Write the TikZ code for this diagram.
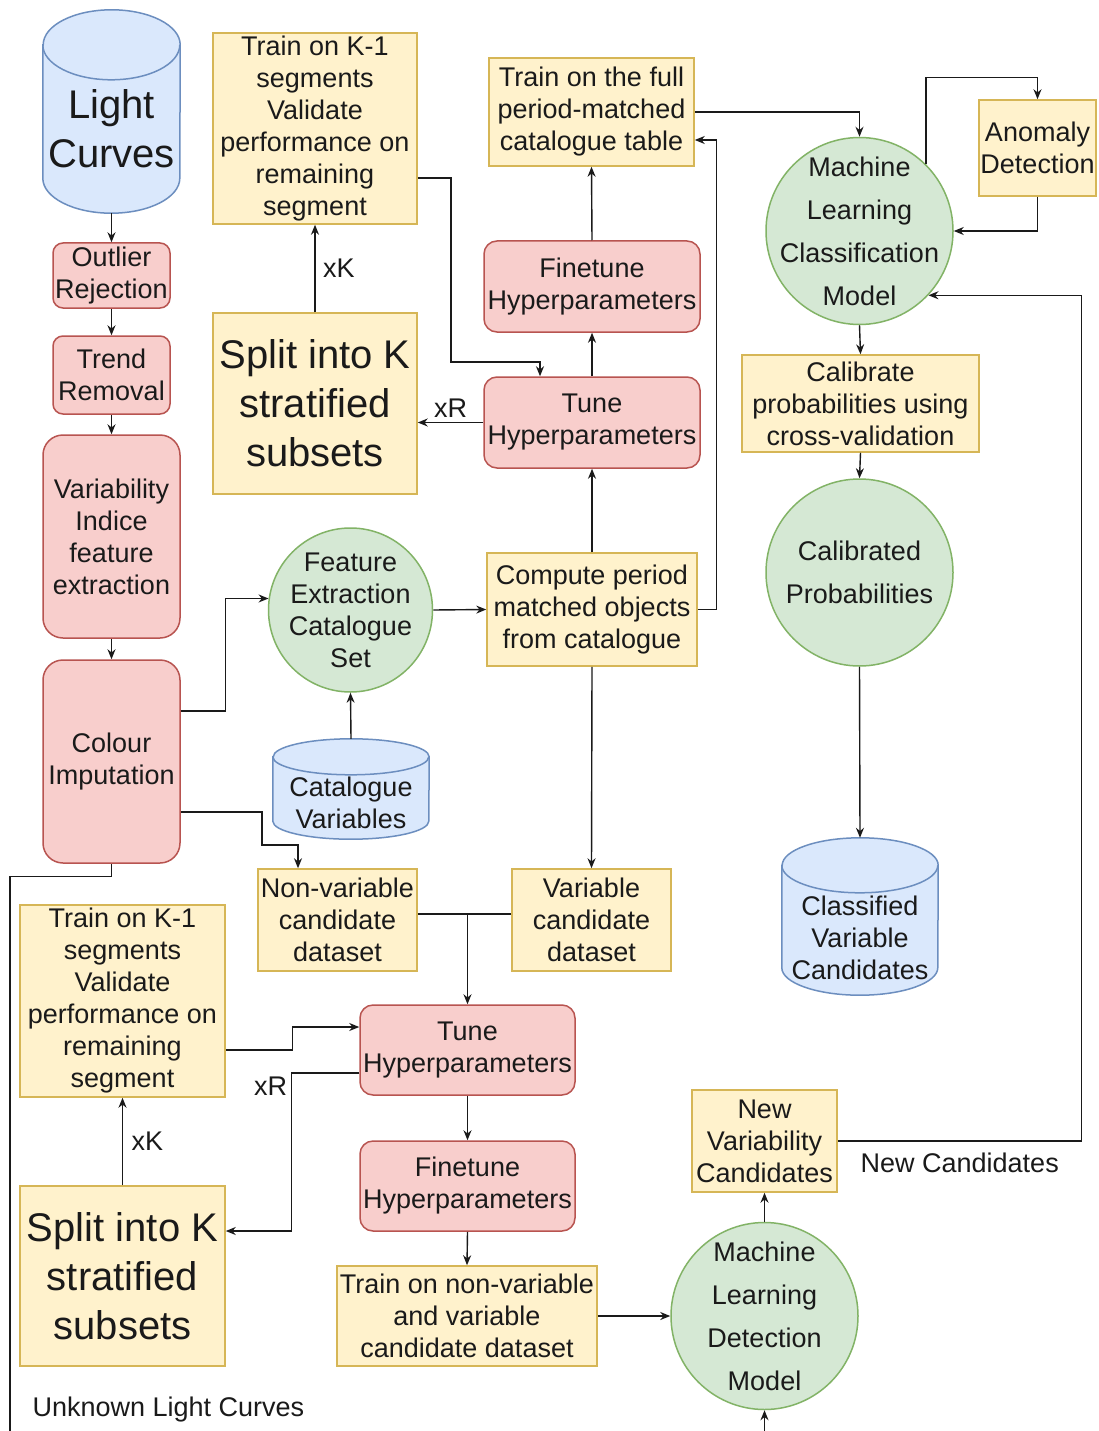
\documentclass[tikz,border=0pt]{standalone}
\usepackage{fontspec}
\setsansfont{Liberation Sans}
\usepackage{xcolor}
\definecolor{stepfill}{HTML}{FFF2CC}
\definecolor{stepdraw}{HTML}{D6B656}
\definecolor{tunefill}{HTML}{F8CECC}
\definecolor{tunedraw}{HTML}{B85450}
\definecolor{modelfill}{HTML}{D5E8D4}
\definecolor{modeldraw}{HTML}{82B366}
\definecolor{storefill}{HTML}{DAE8FC}
\definecolor{storedraw}{HTML}{6C8EBF}
\definecolor{inkblack}{HTML}{1A1A1A}
\usetikzlibrary{positioning, arrows.meta, shapes.geometric, calc, backgrounds}

\newcommand{\boxtext}{\fontsize{27}{32}\selectfont}
\newcommand{\bigtext}{\fontsize{40}{49}\selectfont}
\newcommand{\circtext}{\fontsize{27}{43}\selectfont}

\tikzset{
  every node/.style={font=\sffamily\boxtext, text=inkblack},
  stepbox/.style={
    rectangle, draw=stepdraw, fill=stepfill, line width=1.5pt,
    align=center, inner sep=1pt
  },
  tunebox/.style={
    rectangle, rounded corners=13pt, draw=tunedraw, fill=tunefill,
    line width=1.5pt, align=center, inner sep=1pt
  },
  modelnode/.style={
    circle, draw=modeldraw, fill=modelfill, line width=1.5pt,
    align=center, inner sep=-20pt, minimum size=187pt,
    font=\sffamily\circtext
  },
  % body of a data store; the drum itself is drawn behind it by \drum
  storebody/.style={rectangle, align=center, inner sep=1pt},
  storeline/.style={draw=storedraw, fill=storefill, line width=1.5pt},
  flow/.style={-{Stealth[length=10pt, width=8pt]}, draw=inkblack, line width=1.4pt},
  link/.style={draw=inkblack, line width=1.4pt},
  notelabel/.style={font=\sffamily\boxtext}
}

% drum round a storebody node: #1 node, #2 x radius, #3 y radius,
% #4 gap from the node's top edge up to the centre of the lid
\newcommand{\drum}[4]{%
  \path[storeline] ([yshift=#4]#1.north west) -- ([yshift=#3]#1.south west)
    arc[start angle=180, end angle=360, x radius=#2, y radius=#3]
    -- ([yshift=#4]#1.north east)
    arc[start angle=0, end angle=180, x radius=#2, y radius=#3] -- cycle;
  \draw[storeline, fill=none] ([yshift=#4]#1.north west)
    arc[start angle=180, end angle=360, x radius=#2, y radius=#3];
}

\begin{document}
\begin{tikzpicture}[x=1pt, y=-1pt]

\path[use as bounding box] (0,0) rectangle (1099,1431);
\clip (0,0) rectangle (1099,1431);

% ── Light-curve preprocessing column ─────────────────────────────────────────
\node[storebody, minimum width=137pt, minimum height=168pt, font=\sffamily\bigtext]
  (lc) at (111.5,129) {Light\\Curves};
\node[tunebox, minimum width=117pt, minimum height=65pt, rounded corners=10pt]
  (outlier) at (111.5,275.5) {Outlier\\Rejection};
\node[tunebox, minimum width=117pt, minimum height=78pt, rounded corners=10pt]
  (trend) at (111.5,375) {Trend\\Removal};
\node[tunebox, minimum width=137pt, minimum height=203pt, rounded corners=20pt]
  (varind) at (111.5,536.5) {Variability\\Indice\\feature\\extraction};
\node[tunebox, minimum width=137pt, minimum height=203pt, rounded corners=20pt]
  (colour) at (111.5,761.5) {Colour\\Imputation};

\draw[flow] (lc.south) -- (outlier.north);
\draw[flow] (outlier.south) -- (trend.north);
\draw[flow] (trend.south) -- (varind.north);
\draw[flow] (varind.south) -- (colour.north);

% ── Classifier branch: K-fold tuning on catalogue objects ────────────────────
\node[stepbox, minimum width=204pt, minimum height=191pt] (kfoldA) at (315,128.5)
  {Train on K-1\\segments\\Validate\\performance on\\remaining\\segment};
\node[stepbox, minimum width=204pt, minimum height=181pt, font=\sffamily\bigtext]
  (splitA) at (315,403.5) {Split into K\\stratified\\subsets};
\node[stepbox, minimum width=205pt, minimum height=108pt] (fullcat) at (591.5,112)
  {Train on the full\\period-matched\\catalogue table};
\node[tunebox, minimum width=216pt, minimum height=91pt] (fineA) at (592,286.5)
  {Finetune\\Hyperparameters};
\node[tunebox, minimum width=216pt, minimum height=91pt] (tuneA) at (592,422.5)
  {Tune\\Hyperparameters};
\node[stepbox, minimum width=210pt, minimum height=113pt] (compute) at (592,609.5)
  {Compute period\\matched objects\\from catalogue};

\draw[flow] (splitA.north) -- (kfoldA.south) node[midway, right=4pt] {xK};
\draw[flow] (tuneA.west) -- (tuneA.west -| splitA.east) node[midway, above=1pt] {xR};
\draw[flow] ([yshift=-49.5pt]kfoldA.east) -| (451,362) -| ([xshift=-52pt]tuneA.north);
\draw[flow] (compute.north) -- (tuneA.south);
\draw[flow] (tuneA.north) -- (fineA.south);
\draw[flow] (fineA.north) -- (fullcat.south);
\draw[flow] (compute.east) -- ++(19,0) |- ([yshift=-28pt]fullcat.east);

% ── Classification model and calibration ─────────────────────────────────────
\node[modelnode] (mlc) at (859.5,231) {Machine\\Learning\\Classification\\Model};
\node[stepbox, minimum width=117pt, minimum height=96pt] (anomaly) at (1037.5,148)
  {Anomaly\\Detection};
\node[stepbox, minimum width=237pt, minimum height=97pt] (calib) at (860.5,403.5)
  {Calibrate\\probabilities using\\cross-validation};
\node[modelnode] (calprob) at (859.5,572.5) {Calibrated\\Probabilities};
\node[storebody, minimum width=156pt, minimum height=114pt]
  (classified) at (860,938) {Classified\\Variable\\Candidates};

\draw[flow] (fullcat.east) -| (mlc.north);
\draw[flow] (mlc.45) |- ([yshift=22pt]anomaly.north) -- (anomaly.north);
\draw[flow] (anomaly.south) |- (mlc.east);
\draw[flow] (mlc.south) -- (calib.north);
\draw[flow] (calib.south) -- (calprob.north);
\draw[flow] (calprob.south) -- ([yshift=43pt]classified.north);

% ── Catalogue features ───────────────────────────────────────────────────────
\node[modelnode, minimum size=164pt, font=\sffamily\boxtext] (featset) at (350.5,610)
  {Feature\\Extraction\\Catalogue\\Set};
\node[storebody, minimum width=156pt, minimum height=72pt]
  (catvar) at (351,803) {Catalogue\\Variables};

\draw[flow] ([yshift=50.5pt]colour.east) -- ++(45,0) |- (featset.172);
\draw[flow] (featset.east) -- (compute.west);
\draw[flow] ([yshift=28pt]catvar.north) -- (featset.south);

% ── Detection branch: candidate datasets ─────────────────────────────────────
\node[stepbox, minimum width=159pt, minimum height=102pt] (nonvar) at (337.5,920)
  {Non-variable\\candidate\\dataset};
\node[stepbox, minimum width=159pt, minimum height=102pt] (varcand) at (591.5,920)
  {Variable\\candidate\\dataset};
\node[tunebox, minimum width=215pt, minimum height=90pt] (tuneB) at (467.5,1050)
  {Tune\\Hyperparameters};
\node[tunebox, minimum width=215pt, minimum height=90pt] (fineB) at (467.5,1186)
  {Finetune\\Hyperparameters};
\node[stepbox, minimum width=260pt, minimum height=100pt] (trainnv) at (467,1316)
  {Train on non-variable\\and variable\\candidate dataset};
\node[stepbox, minimum width=205pt, minimum height=192pt] (kfoldB) at (122.5,1001)
  {Train on K-1\\segments\\Validate\\performance on\\remaining\\segment};
\node[stepbox, minimum width=205pt, minimum height=180pt, font=\sffamily\bigtext]
  (splitB) at (122.5,1276) {Split into K\\stratified\\subsets};

\draw[flow] ([yshift=-50.5pt]colour.east) -| (262,845) -| ([xshift=-39.5pt]nonvar.north);
\draw[flow] (compute.south) -- (varcand.north);
\draw[link] ([yshift=6pt]nonvar.east) -- ([yshift=6pt]varcand.west);
\draw[flow] ([yshift=6pt]nonvar.east -| tuneB.north) -- (tuneB.north);
\draw[flow] (tuneB.south) -- (fineB.north);
\draw[flow] (fineB.south) -- (trainnv.north);
\draw[flow] (splitB.north) -- (kfoldB.south) node[midway, right=5pt] {xK};
\draw[flow] ([yshift=-49pt]kfoldB.east) -- ++(67,0) |- ([yshift=23pt]tuneB.west);
\draw[flow] ([yshift=-23pt]tuneB.west) -- ++(-68,0) node[below left] {xR}
  |- ([yshift=45pt]splitB.east);

% ── Detection model and feedback of new candidates ───────────────────────────
\node[modelnode] (mld) at (764.5,1316) {Machine\\Learning\\Detection\\Model};
\node[stepbox, minimum width=145pt, minimum height=102pt] (newcand) at (764.5,1141)
  {New\\Variability\\Candidates};

\draw[flow] (trainnv.east) -- (mld.west);
\draw[flow] (mld.north) -- (newcand.south);
\draw[flow] (newcand.east) -- node[below=8pt, notelabel] {New Candidates} ++(244,0)
  |- (mlc.-43);

% unknown light curves run round the bottom edge into the detector
\draw[flow] (colour.south) -- ++(0,13) -| (10,1450) -| (mld.south);
\node[notelabel, anchor=west] (unknown) at (29,1410) {Unknown Light Curves};

% ── Drums behind the data stores ─────────────────────────────────────────────
\begin{scope}[on background layer]
  \fill[white] (0,0) rectangle (1099,1431);
  \drum{lc}{68.5pt}{35pt}{0pt}
  \drum{classified}{78pt}{27.5pt}{15.5pt}
  \drum{catvar}{78pt}{18pt}{10pt}
\end{scope}

\end{tikzpicture}
\end{document}
